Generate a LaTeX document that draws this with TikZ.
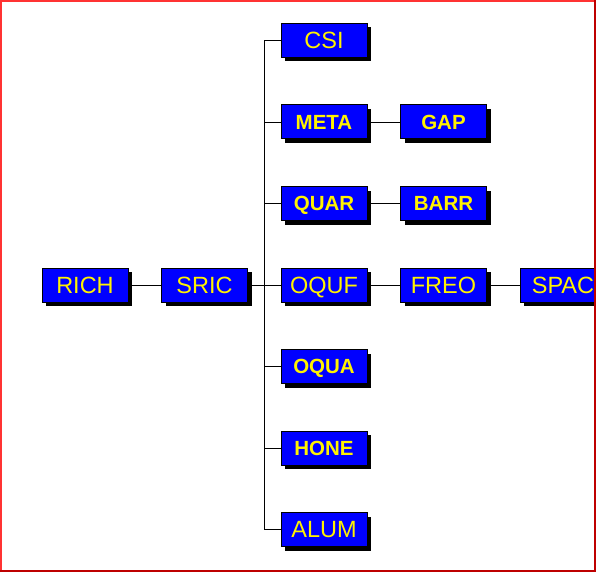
\documentclass[tikz,border=0pt]{standalone}
\usepackage{fontspec}
\setmainfont{Liberation Sans}
\usetikzlibrary{positioning,shadows,calc}

\definecolor{framelight}{RGB}{255,50,50}
\definecolor{framedark}{RGB}{190,0,0}

\tikzset{
  unit/.style={draw=black, line width=1pt, fill=blue, text=yellow,
    minimum width=86pt, minimum height=34pt, inner sep=0pt, text depth=0pt,
    general shadow={fill=black, shadow xshift=4pt, shadow yshift=-4pt}},
  bigunit/.style={unit, text height=16.8pt, font=\fontsize{23.5}{27}\selectfont},
  boldunit/.style={unit, text height=14.7pt, font=\fontsize{20.5}{24}\selectfont\bfseries},
  link/.style={draw=black, line width=0.9pt}
}

\begin{document}
\begin{tikzpicture}[x=1pt, y=1pt, node distance=46.5pt and 32.5pt]
  \useasboundingbox (0,0) rectangle (596,-572);
  \clip (0,0) rectangle (596,-572);
  \fill[white] (0,0) rectangle (596,-572);

  \node[bigunit] (rich) at (85,-285) {RICH};
  \node[bigunit, right=of rich] (sric) {SRIC};
  \node[bigunit, right=of sric] (oquf) {OQUF};
  \node[bigunit, right=of oquf] (freo) {FREO};
  \node[bigunit, right=of freo] (spac) {SPAC};

  \node[boldunit, above=of oquf] (quar) {QUAR};
  \node[boldunit, above=of quar] (meta) {META};
  \node[bigunit, above=of meta] (csi) {CSI};
  \node[boldunit, below=of oquf] (oqua) {OQUA};
  \node[boldunit, below=of oqua] (hone) {HONE};
  \node[bigunit, below=of hone] (alum) {ALUM};

  \node[boldunit, right=of meta] (gap) {GAP};
  \node[boldunit, right=of quar] (barr) {BARR};

  \coordinate (trunk) at ($(sric.east)!0.5!(oquf.west)$);

  \draw[link] (rich) -- (sric);
  \draw[link] (sric) -- (oquf);
  \draw[link] (oquf) -- (freo);
  \draw[link] (freo) -- (spac);
  \draw[link] (meta) -- (gap);
  \draw[link] (quar) -- (barr);
  \draw[link] (csi.west -| trunk) -- (alum.west -| trunk);
  \foreach \n in {csi,meta,quar,oqua,hone,alum}
    \draw[link] (\n.west) -- (\n.west -| trunk);

  \draw[framelight, line width=2pt] (1,-572) -- (1,-1) -- (596,-1);
  \draw[framedark, line width=2pt] (595,0) -- (595,-571) -- (0,-571);
\end{tikzpicture}
\end{document}
